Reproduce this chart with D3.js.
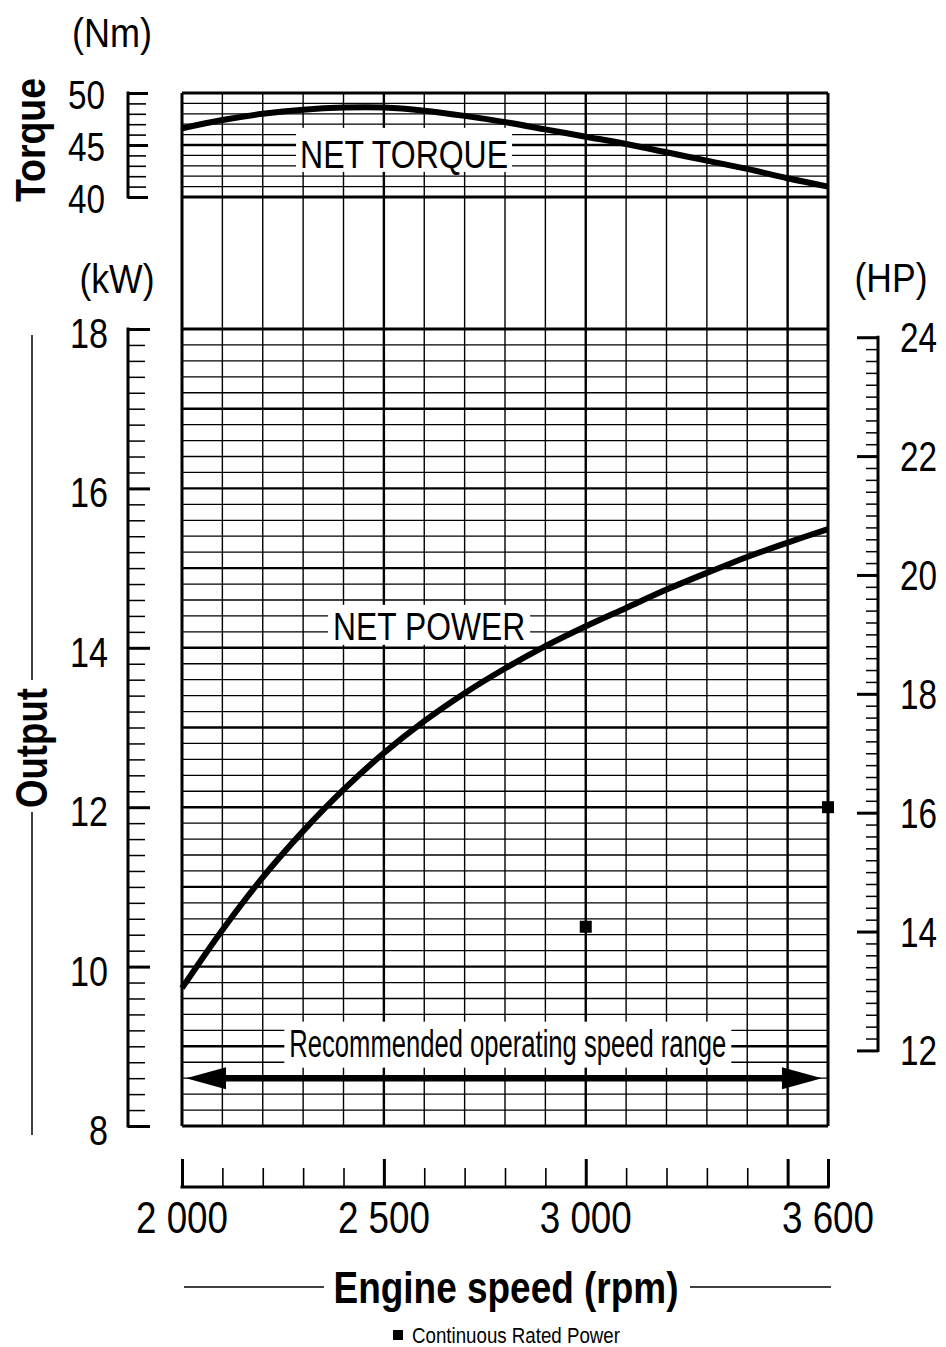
<!DOCTYPE html>
<html><head><meta charset="utf-8">
<script src="https://cdn.jsdelivr.net/npm/d3@7"></script>
<style>html,body{margin:0;padding:0;background:#fff;} svg{display:block;}</style>
</head><body>
<svg id="chart" width="946" height="1347"></svg>
<script>
// ---------- DATA ----------
const rpm        = [2000,2100,2200,2300,2400,2500,2600,2700,2800,2900,3000,3100,3200,3300,3400,3500,3600];
const netTorque  = [46.6,47.4,48.0,48.4,48.6,48.6,48.3,47.8,47.2,46.5,45.8,45.1,44.3,43.5,42.7,41.8,41.0];
const netPower   = [9.73,10.46,11.12,11.70,12.22,12.68,13.08,13.43,13.74,14.02,14.27,14.50,14.73,14.94,15.14,15.32,15.49];
const ratedRpm   = [3000,3600];
const ratedPower = [10.5,12.0];
const rpmTickValues  = [2000,2500,3000,3600];
const rpmTickLabels  = ["2 000","2 500","3 000","3 600"];
const kwTickValues   = [8,10,12,14,16,18];
const hpTickValues   = [12,14,16,18,20,22,24];
const torqueTickValues = [40,45,50];
const rangeArrow = [2010,3585];   // rpm span of operating range arrow

// ---------- SETUP ----------
const svg = d3.select("#chart");
const FONT = "'Liberation Sans Narrow','Arial Narrow','Nimbus Sans Narrow','Liberation Sans',Arial,sans-serif";
const x  = d3.scaleLinear().domain([2000,3600]).range([182,828]);
const yT = d3.scaleLinear().domain([40,50]).range([197,93]);
const yP = d3.scaleLinear().domain([8,18]).range([1126,329]);
const HP_KW = 0.7457;
const yH = d3.scaleLinear().domain([12,24]).range([yP(12*HP_KW), yP(24*HP_KW)]);

const gGrid  = svg.append("g");
const gBox   = svg.append("g");
const gCurve = svg.append("g");
const gAxis  = svg.append("g");
const gText  = svg.append("g");

// ---------- GRID ----------
const rpmLines = d3.range(2000,3601,100);
gGrid.selectAll("line.v").data(rpmLines).join("line")
  .attr("x1",d=>x(d)).attr("x2",d=>x(d)).attr("y1",yT(50)).attr("y2",yP(8))
  .attr("stroke","#000")
  .attr("stroke-width",d=>(d===2000||d===3600)?3:(d%500===0?2.4:1.4));

const tLines = d3.range(40,51,1);
gGrid.selectAll("line.t").data(tLines).join("line")
  .attr("x1",x(2000)).attr("x2",x(3600)).attr("y1",d=>yT(d)).attr("y2",d=>yT(d))
  .attr("stroke","#000")
  .attr("stroke-width",d=>(d===40||d===50)?3:(d===45?2.4:1.3));

const pIdx = d3.range(0,51);
gGrid.selectAll("line.p").data(pIdx).join("line")
  .attr("x1",x(2000)).attr("x2",x(3600)).attr("y1",i=>yP(8+i*0.2)).attr("y2",i=>yP(8+i*0.2))
  .attr("stroke","#000")
  .attr("stroke-width",i=>(i===0||i===50)?3:(i%5===0?2.4:1.3));

// ---------- IN-PLOT LABELS WITH WHITE BACKGROUNDS ----------
function boxedLabel(txt, cx, by, size, len, top, bottom, padX){
  gText.append("text").text(txt)
    .attr("x",cx).attr("y",by).attr("text-anchor","middle")
    .attr("font-family",FONT).attr("font-size",size).attr("fill","#000")
    .attr("textLength",len).attr("lengthAdjust","spacingAndGlyphs");
  gBox.append("rect").attr("x",cx-len/2-padX).attr("width",len+2*padX)
    .attr("y",by-top).attr("height",top+bottom).attr("fill","#fff");
}
boxedLabel("NET TORQUE", x(2550), yT(42.8), 39, 208, 40, 4, 4);
boxedLabel("NET POWER",  x(2612), yP(14.10), 39, 192, 35, 5, 5);
boxedLabel("Recommended operating speed range", x(2807), yP(8.87), 38, 437, 35, 11, 5);

// ---------- CURVES ----------
const lineT = d3.line().x((d,i)=>x(rpm[i])).y(d=>yT(d)).curve(d3.curveCatmullRom.alpha(0.5));
const lineP = d3.line().x((d,i)=>x(rpm[i])).y(d=>yP(d)).curve(d3.curveCatmullRom.alpha(0.5));
gCurve.append("path").attr("d",lineT(netTorque)).attr("fill","none").attr("stroke","#000").attr("stroke-width",6);
gCurve.append("path").attr("d",lineP(netPower)).attr("fill","none").attr("stroke","#000").attr("stroke-width",6);

// rated power squares
gCurve.selectAll("rect.rated").data(ratedRpm).join("rect")
  .attr("x",(d)=>x(d)-6).attr("y",(d,i)=>yP(ratedPower[i])-6)
  .attr("width",12).attr("height",12).attr("fill","#000");

// operating range double arrow
(function(){
  const y = yP(8.6), xl = x(rangeArrow[0]), xr = x(rangeArrow[1]);
  const hl = 40, hw = 11, sw = 3.2;
  const p = d3.path();
  p.moveTo(xl,y); p.lineTo(xl+hl,y-hw); p.lineTo(xl+hl,y-sw); p.lineTo(xr-hl,y-sw);
  p.lineTo(xr-hl,y-hw); p.lineTo(xr,y); p.lineTo(xr-hl,y+hw); p.lineTo(xr-hl,y+sw);
  p.lineTo(xl+hl,y+sw); p.lineTo(xl+hl,y+hw); p.closePath();
  gCurve.append("path").attr("d",p.toString()).attr("fill","#000");
})();

// ---------- AXES ----------
function styleAxis(g){ g.select(".domain").remove(); g.selectAll("text").remove(); }
// Torque axis (left)
const axT = gAxis.append("g").attr("transform","translate(128,0)")
  .call(d3.axisRight(yT).tickValues(d3.range(40,51,1)).tickSize(18).tickFormat(""));
styleAxis(axT);
axT.selectAll(".tick line").attr("stroke","#000").attr("stroke-width",d=>d%5===0?3:1.6).attr("x2",d=>d%5===0?20:18);
gAxis.append("line").attr("x1",128).attr("x2",128).attr("y1",yT(50)-1.5).attr("y2",yT(40)+1.5).attr("stroke","#000").attr("stroke-width",3);

// kW axis (left)
const axP = gAxis.append("g").attr("transform","translate(128,0)")
  .call(d3.axisRight(yP).tickValues(d3.range(0,51).map(i=>8+i*0.2)).tickSize(17).tickFormat(""));
styleAxis(axP);
axP.selectAll(".tick line").attr("stroke","#000")
  .attr("stroke-width",(d,i)=>i%10===0?3:1.5).attr("x2",(d,i)=>i%10===0?22:17);
gAxis.append("line").attr("x1",128).attr("x2",128).attr("y1",yP(18)-1.5).attr("y2",yP(8)+1.5).attr("stroke","#000").attr("stroke-width",3);

// HP axis (right)
const axH = gAxis.append("g").attr("transform","translate(878,0)")
  .call(d3.axisLeft(yH).tickValues(d3.range(0,61).map(i=>12+i*0.2)).tickSize(12).tickFormat(""));
styleAxis(axH);
axH.selectAll(".tick line").attr("stroke","#000")
  .attr("stroke-width",(d,i)=>i%10===0?3:1.5).attr("x2",(d,i)=>i%10===0?-21:-12);
gAxis.append("line").attr("x1",878).attr("x2",878).attr("y1",yH(24)-1.5).attr("y2",yH(12)+1.5).attr("stroke","#000").attr("stroke-width",3);

// rpm axis (bottom)
const axX = gAxis.append("g").attr("transform","translate(0,1187)")
  .call(d3.axisTop(x).tickValues(rpmLines).tickSize(19).tickFormat(""));
styleAxis(axX);
axX.selectAll(".tick line").attr("stroke","#000")
  .attr("stroke-width",d=>(d%500===0||d===3600)?3:1.6).attr("y2",d=>(d%500===0||d===3600)?-28:-19);
gAxis.append("line").attr("x1",x(2000)-1.5).attr("x2",x(3600)+1.5).attr("y1",1187).attr("y2",1187).attr("stroke","#000").attr("stroke-width",3);

// ---------- TICK LABELS ----------
const lab = (sel)=>sel.attr("font-family",FONT).attr("fill","#000").attr("lengthAdjust","spacingAndGlyphs");
lab(gText.selectAll("text.kw").data(kwTickValues).join("text")
  .attr("x",108).attr("y",d=>yP(d)+19).attr("text-anchor","end").attr("font-size",43)
  .attr("textLength",d=>String(d).length*19).text(d=>d));
lab(gText.selectAll("text.tq").data(torqueTickValues).join("text")
  .attr("x",105).attr("y",d=>yT(d)+16).attr("text-anchor","end").attr("font-size",41)
  .attr("textLength",37).text(d=>d));
lab(gText.selectAll("text.hp").data(hpTickValues).join("text")
  .attr("x",900).attr("y",d=>yH(d)+15).attr("text-anchor","start").attr("font-size",42)
  .attr("textLength",37).text(d=>d));
lab(gText.selectAll("text.rpm").data(rpmTickValues).join("text")
  .attr("x",d=>x(d)).attr("y",1233).attr("text-anchor","middle").attr("font-size",44)
  .attr("textLength",92).text((d,i)=>rpmTickLabels[i]));

// units
lab(gText.append("text").attr("x",112).attr("y",47).attr("text-anchor","middle").attr("font-size",40)
  .attr("textLength",80).text("(Nm)"));
lab(gText.append("text").attr("x",117).attr("y",293).attr("text-anchor","middle").attr("font-size",40)
  .attr("textLength",75).text("(kW)"));
lab(gText.append("text").attr("x",891).attr("y",292).attr("text-anchor","middle").attr("font-size",40)
  .attr("textLength",73).text("(HP)"));

// axis titles
lab(gText.append("text").attr("transform","translate(45,140) rotate(-90)").attr("text-anchor","middle")
  .attr("font-size",42).attr("font-weight","bold").attr("textLength",124).text("Torque"));
lab(gText.append("text").attr("transform","translate(47,748) rotate(-90)").attr("text-anchor","middle")
  .attr("font-size",44).attr("font-weight","bold").attr("textLength",120).text("Output"));
gAxis.append("line").attr("x1",32).attr("x2",32).attr("y1",335).attr("y2",680).attr("stroke","#000").attr("stroke-width",1.5);
gAxis.append("line").attr("x1",32).attr("x2",32).attr("y1",812).attr("y2",1135).attr("stroke","#000").attr("stroke-width",1.5);

lab(gText.append("text").attr("x",506).attr("y",1303).attr("text-anchor","middle")
  .attr("font-size",44).attr("font-weight","bold").attr("textLength",345).text("Engine speed (rpm)"));
gAxis.append("line").attr("x1",184).attr("x2",324).attr("y1",1287).attr("y2",1287).attr("stroke","#000").attr("stroke-width",1.5);
gAxis.append("line").attr("x1",690).attr("x2",831).attr("y1",1287).attr("y2",1287).attr("stroke","#000").attr("stroke-width",1.5);

// legend
gAxis.append("rect").attr("x",393).attr("y",1330).attr("width",10).attr("height",10).attr("fill","#000");
lab(gText.append("text").attr("x",412).attr("y",1343).attr("font-size",22)
  .attr("textLength",208).text("Continuous Rated Power"));
</script>
</body></html>
